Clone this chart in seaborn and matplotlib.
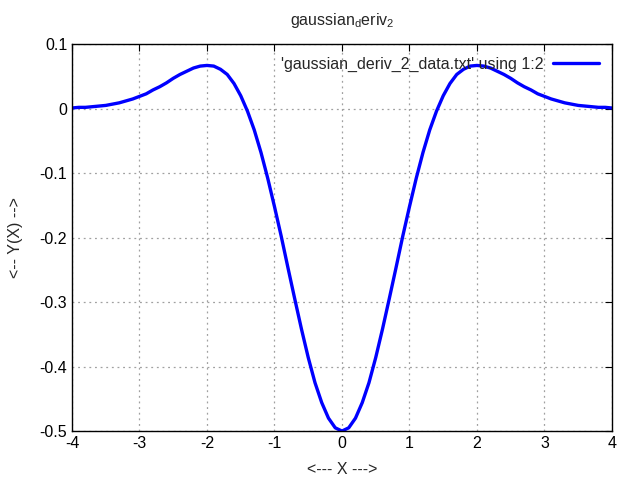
import matplotlib
matplotlib.use("Agg")
import matplotlib.pyplot as plt
import seaborn as sns

# values
x_vals = [-4.0, -3.9, -3.8, -3.7, -3.6, -3.5, -3.4, -3.3, -3.2, -3.1,
          -3.0, -2.9, -2.8, -2.7, -2.6, -2.5, -2.4, -2.3, -2.2, -2.1,
          -2.0, -1.9, -1.8, -1.7, -1.6, -1.5, -1.4, -1.3, -1.2, -1.1,
          -1.0, -0.9, -0.8, -0.7, -0.6, -0.5, -0.4, -0.3, -0.2, -0.1,
          0.0, 0.1, 0.2, 0.3, 0.4, 0.5, 0.6, 0.7, 0.8, 0.9,
          1.0, 1.1, 1.2, 1.3, 1.4, 1.5, 1.6, 1.7, 1.8, 1.9,
          2.0, 2.1, 2.2, 2.3, 2.4, 2.5, 2.6, 2.7, 2.8, 2.9,
          3.0, 3.1, 3.2, 3.3, 3.4, 3.5, 3.6, 3.7, 3.8, 3.9, 4.0]
y_vals = [0.001, 0.002, 0.002, 0.003, 0.004, 0.005, 0.007, 0.009, 0.012, 0.015,
          0.019, 0.023, 0.029, 0.034, 0.040, 0.047, 0.053, 0.058, 0.063, 0.066,
          0.067, 0.066, 0.061, 0.053, 0.039, 0.020, -0.004, -0.033, -0.068, -0.108,
          -0.152, -0.198, -0.247, -0.295, -0.342, -0.386, -0.425, -0.456, -0.480, -0.495,
          -0.500, -0.495, -0.480, -0.456, -0.425, -0.386, -0.342, -0.295, -0.247, -0.198,
          -0.152, -0.108, -0.068, -0.033, -0.004, 0.020, 0.039, 0.053, 0.061, 0.066,
          0.067, 0.066, 0.063, 0.058, 0.053, 0.047, 0.040, 0.034, 0.029, 0.023,
          0.019, 0.015, 0.012, 0.009, 0.007, 0.005, 0.004, 0.003, 0.002, 0.002, 0.001]
x_ticks = [-4, -3, -2, -1, 0, 1, 2, 3, 4]
y_ticks = [0.1, 0, -0.1, -0.2, -0.3, -0.4, -0.5]
y_tick_labels = ["0.1", "0", "-0.1", "-0.2", "-0.3", "-0.4", "-0.5"]

sns.set_style("white")
plt.rcParams["font.family"] = ["Liberation Sans", "DejaVu Sans"]
plt.rcParams["mathtext.default"] = "regular"

fig = plt.figure(figsize=(6.4, 4.8), dpi=100)
ax = fig.add_axes([0.1125, 0.102, 0.8437, 0.806])

sns.lineplot(x=x_vals, y=y_vals, ax=ax, color="#0000ff", linewidth=2.4,
             label="'gaussian_deriv_2_data.txt' using 1:2")

ax.set_xlim(-4, 4)
ax.set_ylim(-0.5, 0.1)
ax.set_xticks(x_ticks)
ax.set_xticklabels([str(t) for t in x_ticks])
ax.set_yticks(y_ticks)
ax.set_yticklabels(y_tick_labels)
ax.tick_params(direction="in", length=5, width=0.8, top=True, right=True,
               labelsize=11.5, colors="black")
for side in ax.spines.values():
    side.set_color("black")
    side.set_linewidth(1.0)
ax.grid(True, linestyle=(0, (1.5, 3)), color="#a0a0a0", linewidth=0.9)

ax.set_title("gaussian$_d$eriv$_2$", fontsize=11.5, pad=14)
ax.set_xlabel("<--- X --->", fontsize=11.5, labelpad=8)
ax.set_ylabel("<-- Y(X) -->", fontsize=11.5, labelpad=12)

leg = ax.legend(loc="upper right", frameon=False, markerfirst=False,
                fontsize=11.5, handlelength=2.9, borderaxespad=0.4,
                handletextpad=0.6)

fig.savefig("out.png", dpi=100)
